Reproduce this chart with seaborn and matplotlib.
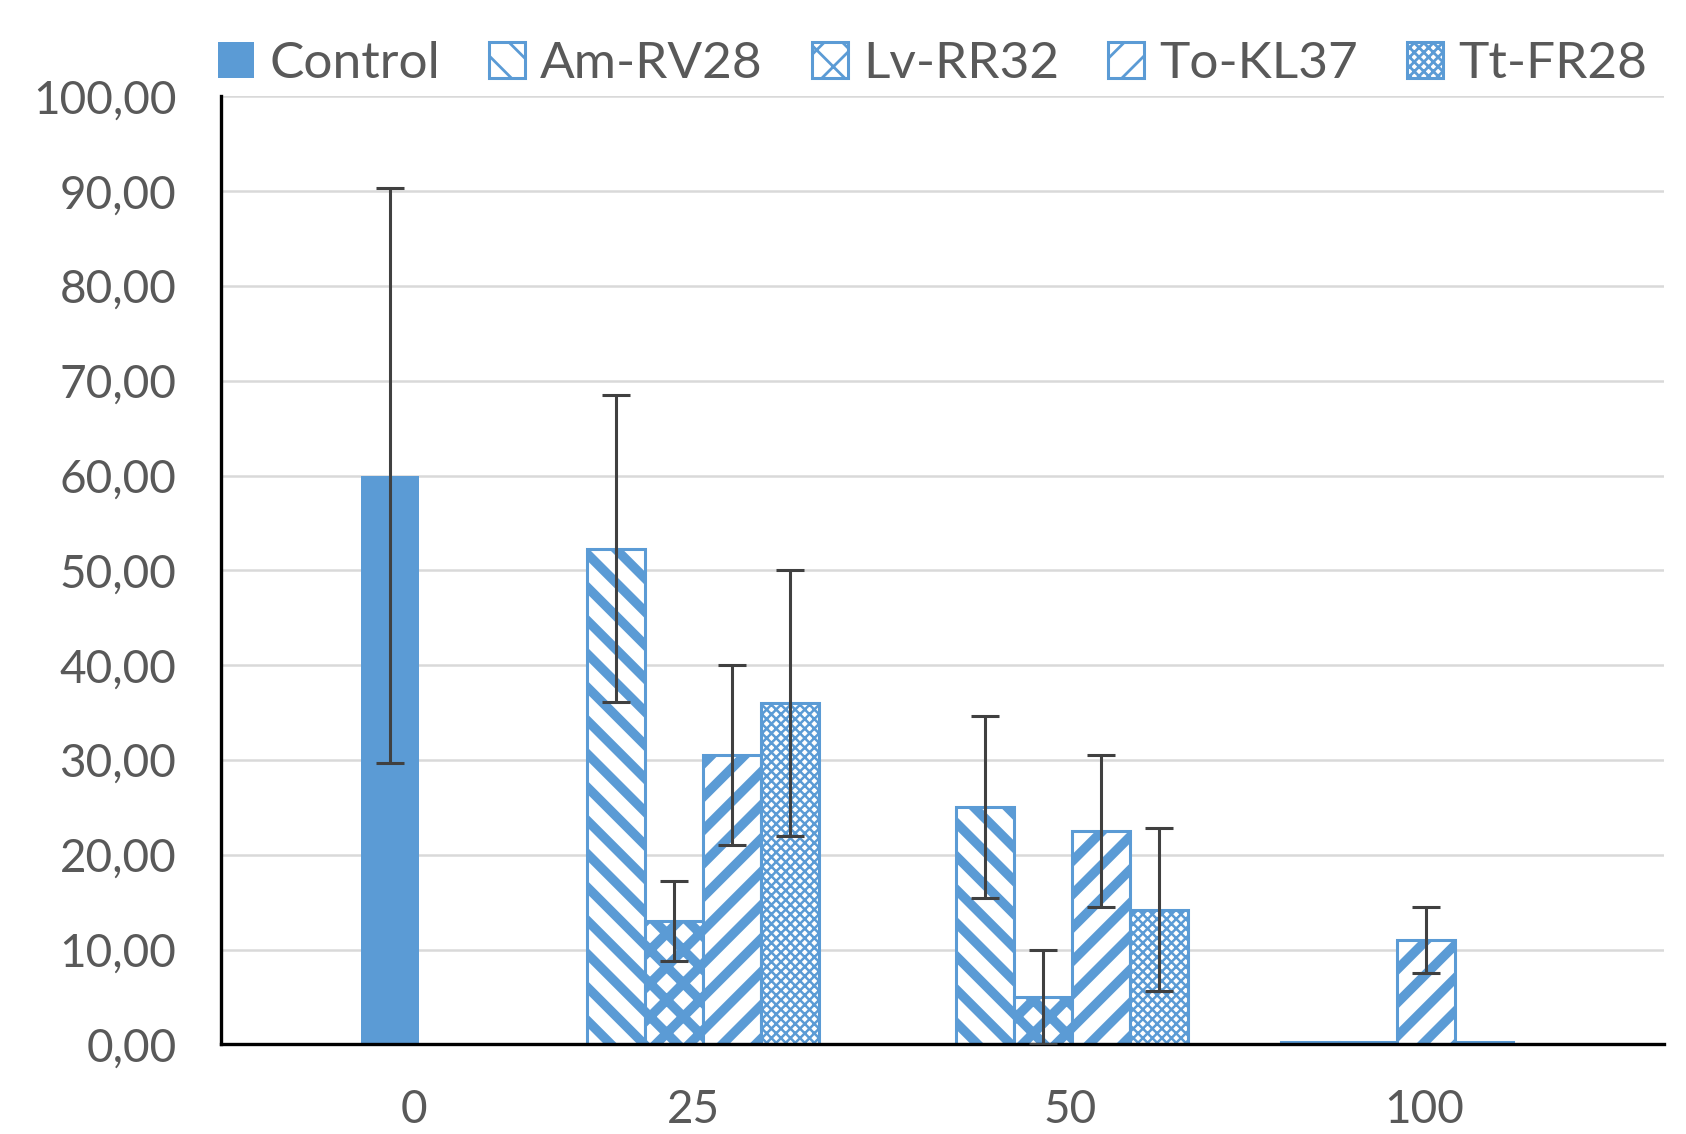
import numpy as np
import pandas as pd
import matplotlib
matplotlib.use("Agg")
import matplotlib.pyplot as plt
from matplotlib.patches import Patch
from matplotlib.ticker import FuncFormatter
import seaborn as sns

doses = ['0', '25', '50', '100']
series = ['Control', 'Am-RV28', 'Lv-RR32', 'To-KL37', 'Tt-FR28']

# control only at dose 0, treated strains at 25 / 50 / 100
control_mean = [60.0]
control_sd = [30.3]
am_mean = [52.3, 25.0, 0.3]
am_sd = [16.2, 9.6, 0.0]
lv_mean = [13.0, 5.0, 0.3]
lv_sd = [4.2, 5.0, 0.0]
to_mean = [30.5, 22.5, 11.0]
to_sd = [9.5, 8.0, 3.5]
tt_mean = [36.0, 14.2, 0.3]
tt_sd = [14.0, 8.6, 0.0]

# layout (x in units of one bar width)
control_x = 2.91
group_x = [6.81, 13.17, 18.76]
tick_x = [3.33, 8.15, 14.63, 20.74]

blue = '#5B9BD5'
grey_txt = '#595959'
hatches = {'Control': None, 'Am-RV28': '\\\\', 'Lv-RR32': 'xx', 'To-KL37': '//', 'Tt-FR28': 'xxxxxxx'}
hatch_lw = {'Control': 1.0, 'Am-RV28': 3.4, 'Lv-RR32': 3.4, 'To-KL37': 3.4, 'Tt-FR28': 0.9}

rows = [{'series': 'Control', 'pos': control_x, 'mean': control_mean[0], 'sd': control_sd[0]}]
treated = {'Am-RV28': (am_mean, am_sd), 'Lv-RR32': (lv_mean, lv_sd),
           'To-KL37': (to_mean, to_sd), 'Tt-FR28': (tt_mean, tt_sd)}
for k, name in enumerate(series[1:]):
    m, s = treated[name]
    for g in range(3):
        rows.append({'series': name, 'pos': group_x[g] + k, 'mean': m[g], 'sd': s[g]})
df = pd.DataFrame(rows)

sns.set_theme(style='white')
plt.rcParams['font.family'] = ['Lato', 'DejaVu Sans']
plt.rcParams['hatch.color'] = blue

fig = plt.figure(figsize=(8.43, 5.67), dpi=200)
ax = fig.add_axes([0.131, 0.079, 0.856, 0.836])

sns.barplot(data=df, x='pos', y='mean', hue='series', hue_order=series,
            palette={s: blue for s in series}, native_scale=True, dodge=False,
            width=1.0, errorbar=None, legend=False, ax=ax)


def style_patch(p, name, lw_scale=1.0):
    if hatches[name] is None:
        p.set_facecolor(blue)
        p.set_edgecolor(blue)
        p.set_linewidth(0)
    else:
        p.set_facecolor('white')
        p.set_edgecolor(blue)
        p.set_linewidth(1.1)
        p.set_hatch(hatches[name])
        if hasattr(p, 'set_hatch_linewidth'):
            p.set_hatch_linewidth(hatch_lw[name] * lw_scale)


for name, cont in zip(series, ax.containers):
    for bar in cont:
        style_patch(bar, name)

eb = df[df['sd'] > 0]
ax.errorbar(eb['pos'], eb['mean'], yerr=eb['sd'], fmt='none', ecolor='#404040',
            elinewidth=1.1, capsize=5.2, capthick=1.1, zorder=5)

ax.set_xlim(0, 24.87)
ax.set_ylim(0, 100)
ax.set_yticks(np.arange(0, 101, 10))
ax.yaxis.set_major_formatter(FuncFormatter(lambda v, p: f'{v:.2f}'.replace('.', ',')))
ax.set_xticks(tick_x)
ax.set_xticklabels(doses)
ax.set_xlabel('')
ax.set_ylabel('')
ax.tick_params(axis='y', length=0, pad=16, labelsize=16.5, labelcolor=grey_txt)
ax.tick_params(axis='x', length=0, pad=16, labelsize=16.5, labelcolor=grey_txt)
ax.yaxis.grid(True, color='#D9D9D9', lw=0.9)
ax.set_axisbelow(True)
sns.despine(ax=ax)
for sp in ['left', 'bottom']:
    ax.spines[sp].set_color('black')
    ax.spines[sp].set_linewidth(1.2)

handles = []
for name in series:
    h = Patch(label=name)
    style_patch(h, name, lw_scale=0.7)
    handles.append(h)
fig.legend(handles=handles, loc='center left', bbox_to_anchor=(0.117, 0.944), ncol=5,
           frameon=False, fontsize=18.5, labelcolor=grey_txt, handlelength=0.7, handleheight=0.7,
           handletextpad=0.3, columnspacing=0.95, borderaxespad=0)

fig.savefig('out.png', dpi=200)
